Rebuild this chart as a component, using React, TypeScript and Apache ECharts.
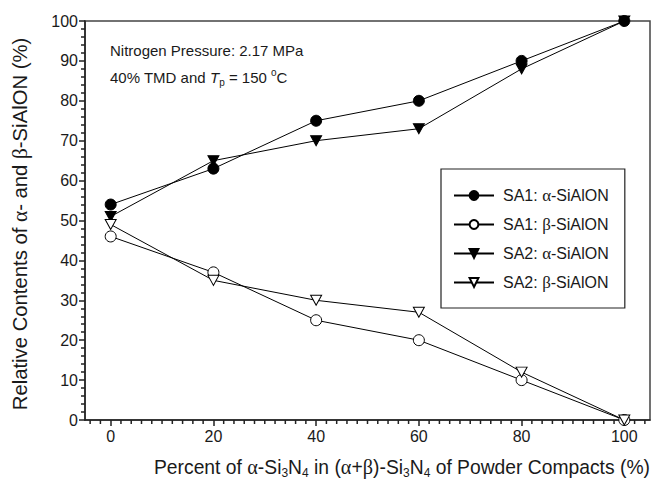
import React, { useEffect, useRef } from 'react';
import * as echarts from 'echarts';

const xValues = [0, 20, 40, 60, 80, 100];
const sa1Alpha = [54, 63, 75, 80, 90, 100];
const sa1Beta = [46, 37, 25, 20, 10, 0];
const sa2Alpha = [51, 65, 70, 73, 88, 100];
const sa2Beta = [49, 35, 30, 27, 12, 0];
const xMajorTicks = [0, 20, 40, 60, 80, 100];
const xMinorTicks: number[] = [];
for (let v = -4; v <= 104; v += 2) {
  if (v % 20 !== 0) xMinorTicks.push(v);
}
const seriesNames = ['SA1: α-SiAlON', 'SA1: β-SiAlON', 'SA2: α-SiAlON', 'SA2: β-SiAlON'];

const FONT = '"Liberation Sans", Arial, sans-serif';
const SERIF = '"Liberation Serif", "Times New Roman", serif';
const TXT = '#1a1a1a';
const AX = '#222222';

const pairs = (ys: number[]) => xValues.map((x, i) => [x, ys[i]]);

export default function App() {
  const ref = useRef<HTMLDivElement>(null);
  useEffect(() => {
    if (!ref.current) return;
    const chart = echarts.init(ref.current, null, { renderer: 'svg' });
    const mkRich = (fs: number) => ({
      g: { fontFamily: SERIF, fontSize: fs + 1, lineHeight: 24, verticalAlign: 'middle', fill: TXT, color: TXT },
      sub: { fontFamily: FONT, fontSize: 12, lineHeight: 12, verticalAlign: 'bottom', fill: TXT, color: TXT },
      n: { fontFamily: FONT, fontSize: fs, lineHeight: 24, verticalAlign: 'middle', fill: TXT, color: TXT },
    });
    const annRich = {
      n: { fontFamily: FONT, fontSize: 15, lineHeight: 20, verticalAlign: 'middle', fill: TXT, color: TXT },
      i: { fontFamily: FONT, fontSize: 15, fontStyle: 'italic', lineHeight: 20, verticalAlign: 'middle', fill: TXT, color: TXT },
      sub: { fontFamily: FONT, fontSize: 10, lineHeight: 10, verticalAlign: 'bottom', fill: TXT, color: TXT },
      sup: { fontFamily: FONT, fontSize: 10, lineHeight: 10, verticalAlign: 'top', fill: TXT, color: TXT },
    };
    const mkSeries = (name: string, data: number[], symbol: string, filled: boolean, rotate: number, size: any) => ({
      name,
      type: 'line',
      data: pairs(data),
      symbol,
      symbolSize: size,
      symbolRotate: rotate,
      lineStyle: { color: '#000', width: 1 },
      itemStyle: { color: filled ? '#000' : '#fff', borderColor: '#000', borderWidth: 1 },
      emphasis: { disabled: true },
      z: 3,
    });
    chart.setOption({
      animation: false,
      grid: { left: 85, top: 21, right: 5, bottom: 61, show: true, borderColor: '#444', borderWidth: 1.5, containLabel: false },
      xAxis: {
        type: 'value',
        min: -5,
        max: 105,
        splitLine: { show: false },
        axisLine: { show: true, onZero: false, lineStyle: { color: AX, width: 1.5 } },
        axisTick: { show: true, length: 6, customValues: xMajorTicks, lineStyle: { color: AX, width: 1.5 } },
        axisLabel: { customValues: xMajorTicks, fontFamily: FONT, fontSize: 16, color: TXT, margin: 8 },
      },
      yAxis: {
        type: 'value',
        min: 0,
        max: 100,
        interval: 10,
        splitLine: { show: false },
        axisLine: { show: true, onZero: false, lineStyle: { color: AX, width: 1.5 } },
        axisTick: { show: true, length: 6, lineStyle: { color: AX, width: 1.5 } },
        minorTick: { show: true, splitNumber: 5, length: 4, lineStyle: { color: AX, width: 1.5 } },
        axisLabel: { fontFamily: FONT, fontSize: 16, color: TXT, margin: 7 },
      },
      legend: {
        orient: 'vertical',
        left: 441,
        top: 169,
        padding: [18, 16, 17, 12],
        itemWidth: 40,
        itemHeight: 11,
        itemGap: 12,
        borderColor: '#222',
        borderWidth: 1.2,
        borderRadius: 0,
        selectedMode: false,
        data: seriesNames,
        formatter: (name: string) => name.replace(/([αβ])/, '{g|$1}'),
        textStyle: {
          fontFamily: FONT,
          fontSize: 16,
          lineHeight: 11,
          color: TXT,
          padding: [0, 0, 0, 4],
          rich: {
            g: { fontFamily: SERIF, fontSize: 17, lineHeight: 11, color: TXT },
          },
        },
      },
      graphic: [
        {
          type: 'text',
          x: 20,
          y: 224,
          rotation: Math.PI / 2,
          style: {
            text: '{n|Relative Contents of }{g|α}{n|- and }{g|β}{n|-SiAlON (%)}',
            rich: mkRich(20.3),
            textAlign: 'center',
            textVerticalAlign: 'middle',
          },
        },
        {
          type: 'text',
          x: 154,
          y: 467,
          style: {
            text: '{n|Percent of }{g|α}{n|-Si}{sub|3}{n|N}{sub|4}{n| in (}{g|α}{n|+}{g|β}{n|)-Si}{sub|3}{n|N}{sub|4}{n| of Powder Compacts (%)}',
            rich: mkRich(19.3),
            textAlign: 'left',
            textVerticalAlign: 'middle',
          },
        },
        {
          type: 'text',
          x: 110,
          y: 50,
          style: {
            text: '{n|Nitrogen Pressure: 2.17 MPa}',
            rich: annRich,
            textAlign: 'left',
            textVerticalAlign: 'middle',
          },
        },
        {
          type: 'text',
          x: 110,
          y: 77,
          style: {
            text: '{n|40% TMD and }{i|T}{sub|p}{n| = 150 }{sup|o}{n|C}',
            rich: annRich,
            textAlign: 'left',
            textVerticalAlign: 'middle',
          },
        },
      ],
      series: [
        {
          type: 'custom',
          name: 'minorTicks',
          data: xMinorTicks.map((v) => [v, 0]),
          encode: { x: 0, y: 1 },
          clip: false,
          silent: true,
          z: 10,
          renderItem: (params: any, api: any) => {
            const p = api.coord([api.value(0), api.value(1)]);
            return {
              type: 'line',
              shape: { x1: p[0], y1: p[1], x2: p[0], y2: p[1] + 4 },
              style: { stroke: AX, lineWidth: 1.5 },
            };
          },
        },
        mkSeries(seriesNames[0], sa1Alpha, 'circle', true, 0, 11),
        mkSeries(seriesNames[1], sa1Beta, 'circle', false, 0, 11),
        mkSeries(seriesNames[2], sa2Alpha, 'triangle', true, 180, [11, 10]),
        mkSeries(seriesNames[3], sa2Beta, 'triangle', false, 180, [11, 10]),
      ],
    });
    return () => chart.dispose();
  }, []);
  return <div ref={ref} style={{ position: 'fixed', left: 0, top: 0, width: 655, height: 481, background: '#fff' }} />;
}
